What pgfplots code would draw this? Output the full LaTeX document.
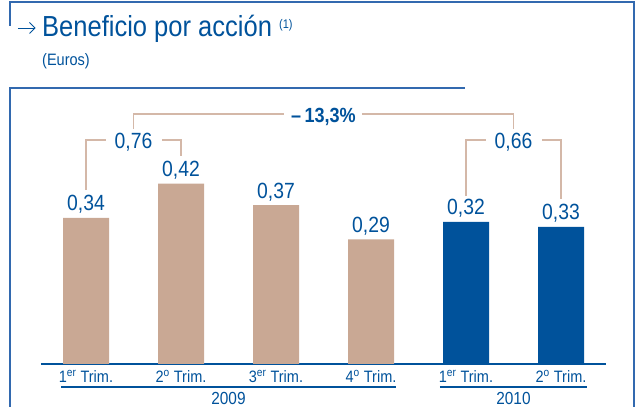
\documentclass[border=0pt]{standalone}
\usepackage{fontspec}
\setmainfont{Liberation Sans}[FakeStretch=0.88]
\usepackage{pgfplots}
\pgfplotsset{compat=1.18}
\definecolor{bblue}{RGB}{0,82,155}
\definecolor{tanbar}{RGB}{201,168,148}
\definecolor{brk}{RGB}{212,184,168}
\definecolor{framec}{RGB}{50,105,175}
\begin{document}
\begin{tikzpicture}
\begin{scope}[shift={(-41pt,364pt)}, x=1pt, y=-1pt]
\useasboundingbox (0,0) rectangle (638,407);
\draw[framec, line width=1.2pt] (10,26)--(10,2)--(634,2)--(634,407);
\draw[framec, line width=1.2pt] (10,407)--(10,88)--(465,88);
\draw[bblue, line width=0.9pt] (18,28)--(35,28);
\draw[bblue, line width=0.9pt] (29.5,22.5)--(35,28)--(29.5,33.5);
\node[anchor=base west, inner sep=0, text=bblue, font=\fontsize{29}{29}\selectfont] at (42,37) {Beneficio por acción};
\node[anchor=base west, inner sep=0, text=bblue, font=\fontsize{12.5}{12.5}\selectfont] at (279,29) {(1)};
\node[anchor=base west, inner sep=0, text=bblue, font=\fontsize{16.5}{16.5}\selectfont] at (42,66) {(Euros)};
\end{scope}
\begin{axis}[
  scale only axis, width=565pt, height=276pt,
  xmin=-0.4737, xmax=5.4737, ymin=0, ymax=0.6426,
  clip=false,
  axis x line*=bottom, axis y line=none,
  x axis line style={bblue, line width=1.3pt, -},
  ybar, bar width=46pt, bar shift=0pt,
  xtick={0,1,2,3,4,5},
  xticklabels={1\textsuperscript{er} Trim., 2\textsuperscript{o} Trim., 3\textsuperscript{er} Trim., 4\textsuperscript{o} Trim., 1\textsuperscript{er} Trim., 2\textsuperscript{o} Trim.},
  major tick length=0pt,
  xticklabel style={font=\fontsize{16.5}{16.5}\selectfont, text=bblue, inner sep=0pt, anchor=base, yshift=-19pt},
  ytick=\empty,
  point meta=explicit symbolic,
  nodes near coords,
  nodes near coords style={font=\fontsize{22}{22}\selectfont, text=bblue, anchor=base, inner sep=0pt, yshift=7pt},
]
\addplot[fill=tanbar, draw=none] coordinates {(0,0.34) [0,34] (1,0.42) [0,42] (2,0.37) [0,37] (3,0.29) [0,29]};
\addplot[fill=bblue, draw=none] coordinates {(4,0.331) [0,32] (5,0.319) [0,33]};
% brackets
\draw[brk, line width=1.3pt] (axis cs:0,0.405)--(axis cs:0,0.5215)--(axis cs:0.21,0.5215);
\draw[brk, line width=1.3pt] (axis cs:0.8,0.5215)--(axis cs:1,0.5215)--(axis cs:1,0.484);
\draw[brk, line width=1.3pt] (axis cs:4,0.391)--(axis cs:4,0.5215)--(axis cs:4.21,0.5215);
\draw[brk, line width=1.3pt] (axis cs:4.8,0.5215)--(axis cs:5,0.5215)--(axis cs:5,0.384);
\draw[brk, line width=1.3pt] (axis cs:0.5,0.547)--(axis cs:0.5,0.582)--(axis cs:2.08,0.582);
\draw[brk, line width=1.3pt] (axis cs:2.905,0.582)--(axis cs:4.5,0.582)--(axis cs:4.5,0.547);
\node[anchor=base, inner sep=0, text=bblue, font=\fontsize{22}{22}\selectfont] at (axis cs:0.5,0.5006) {0,76};
\node[anchor=base, inner sep=0, text=bblue, font=\fontsize{22}{22}\selectfont] at (axis cs:4.5,0.5006) {0,66};
\node[anchor=base, inner sep=0, text=bblue, font=\bfseries\fontsize{20.5}{20.5}\selectfont] at (axis cs:2.5,0.5634) {–\,13,3\%};
% group underlines and years
\draw[bblue, line width=1.2pt] (axis cs:-0.263,-0.0535)--(axis cs:3.263,-0.0535);
\draw[bblue, line width=1.2pt] (axis cs:3.726,-0.0535)--(axis cs:5.274,-0.0535);
\node[anchor=base, inner sep=0, text=bblue, font=\fontsize{17.5}{17.5}\selectfont] at (axis cs:1.5,-0.094) {2009};
\node[anchor=base, inner sep=0, text=bblue, font=\fontsize{17.5}{17.5}\selectfont] at (axis cs:4.5,-0.094) {2010};
\end{axis}
\end{tikzpicture}
\end{document}
